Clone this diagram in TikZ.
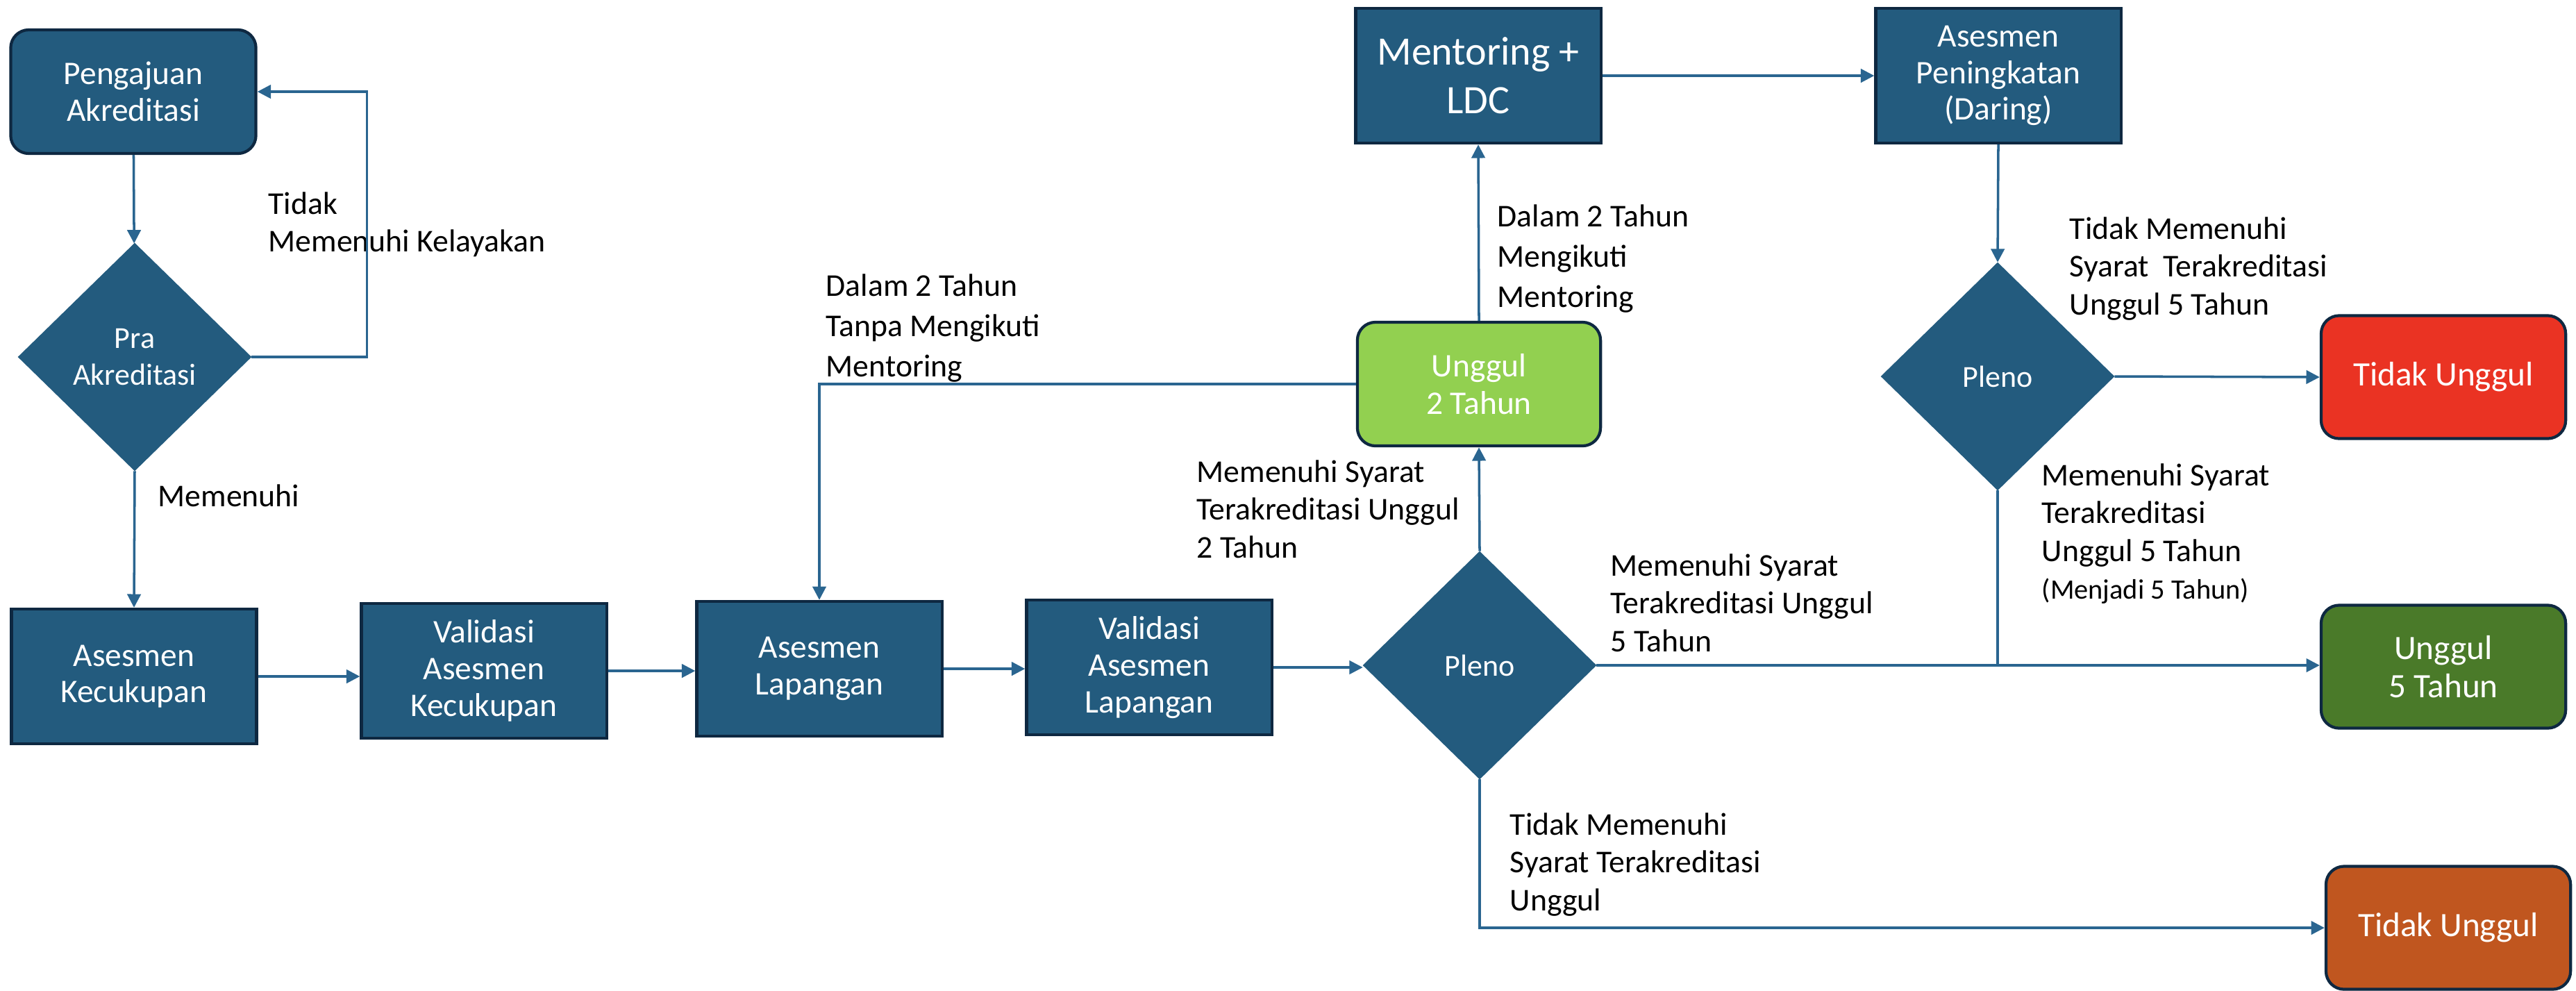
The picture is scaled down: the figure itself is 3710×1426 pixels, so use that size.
\documentclass[tikz,border=0pt]{standalone}
\usepackage{fontspec}
\setmainfont{Carlito}
\usetikzlibrary{shapes.geometric,arrows.meta}
\definecolor{boxblue}{HTML}{235B7E}
\definecolor{boxedge}{HTML}{0E2841}
\definecolor{linkblue}{HTML}{2A6590}
\definecolor{hijaumuda}{HTML}{92D050}
\definecolor{hijautua}{HTML}{4A7A29}
\definecolor{merah}{HTML}{EA3323}
\definecolor{coklat}{HTML}{C0561F}

\begin{document}
\begin{tikzpicture}[x=0.01cm,y=-0.01cm,>={Triangle[length=5.5pt,width=5.5pt]}]
  \tikzstyle{box}=[rectangle,draw=boxedge,line width=1.2pt,fill=boxblue,text=white,align=center,
    minimum width=3.53cm,minimum height=1.94cm,inner sep=0pt,font=\fontsize{13.5}{15}\selectfont]
  \tikzstyle{hasil}=[box,rounded corners=0.26cm,minimum width=3.52cm,minimum height=1.77cm,
    font=\fontsize{14}{15.5}\selectfont]
  \tikzstyle{cek}=[diamond,draw=boxblue,fill=boxblue,text=white,align=center,
    minimum width=3.35cm,minimum height=3.27cm,inner sep=0pt,font=\fontsize{12.5}{15}\selectfont]
  \tikzstyle{ket}=[anchor=north west,align=left,inner sep=0pt,font=\fontsize{13}{15.5}\selectfont]
  \tikzstyle{ketlebar}=[ket,font=\fontsize{13}{16.5}\selectfont]
  \tikzstyle{alur}=[->,draw=linkblue,line width=1pt]
  \useasboundingbox (0,0) rectangle (3710,1426);

  \node[box,rounded corners=0.26cm,minimum height=1.78cm] (pengajuan) at (192,132) {Pengajuan\\Akreditasi};
  \node[cek] (pra) at (194,514) {Pra\\Akreditasi};
  \node[box] (kecukupan) at (193,974) {Asesmen\\Kecukupan};
  \node[box] (valkecukupan) at (697,966) {Validasi\\Asesmen\\Kecukupan};
  \node[box] (lapangan) at (1180,963) {Asesmen\\Lapangan};
  \node[box] (vallapangan) at (1655,961) {Validasi\\Asesmen\\Lapangan};
  \node[cek] (plenoa) at (2131,958) {Pleno};
  \node[hasil,fill=hijaumuda,minimum width=3.5cm,minimum height=1.78cm,
    font=\fontsize{13.5}{15.5}\selectfont] (unggulb) at (2130,553) {Unggul\\2 Tahun};
  \node[box,font=\fontsize{16.5}{20}\selectfont] (mentoring) at (2129,109) {Mentoring +\\LDC};
  \node[box] (peningkatan) at (2878,109) {Asesmen\\Peningkatan\\(Daring)};
  \node[cek] (plenob) at (2877,542) {Pleno};
  \node[hasil,fill=merah] (tidakmerah) at (3519,543) {Tidak Unggul};
  \node[hasil,fill=hijautua] (unggule) at (3519,960) {Unggul\\5 Tahun};
  \node[hasil,fill=coklat] (tidakcoklat) at (3526,1336) {Tidak Unggul};

  \node[ket] (ketlayak) at (386,276) {Tidak\\Memenuhi Kelayakan};
  \node[ket] (ketpenuh) at (227,697) {Memenuhi};
  \node[ketlebar] (kettanpa) at (1189,394) {Dalam 2 Tahun\\Tanpa Mengikuti\\Mentoring};
  \node[ketlebar] (ketikut) at (2156,294) {Dalam 2 Tahun\\Mengikuti\\Mentoring};
  \node[ket] (ketdua) at (1723,662) {Memenuhi Syarat\\Terakreditasi Unggul\\2 Tahun};
  \node[ket] (ketlima) at (2319,797) {Memenuhi Syarat\\Terakreditasi Unggul\\5 Tahun};
  \node[ket] (kettidak) at (2174,1170) {Tidak Memenuhi\\Syarat Terakreditasi\\Unggul};
  \node[ket] (kettidaklima) at (2980,312) {Tidak Memenuhi\\Syarat\ \ Terakreditasi\\Unggul 5 Tahun};
  \node[ket] (ketmenjadi) at (2940,667) {Memenuhi Syarat\\Terakreditasi\\Unggul 5 Tahun\\
    {\fontsize{11.5}{13}\selectfont (Menjadi 5 Tahun)}};

  \draw[alur] (pengajuan) -- (pra);
  \draw[alur] (pra.east) -- ++(166,0) |- (pengajuan.east);
  \draw[alur] (pra.south) -- (kecukupan.north);
  \draw[alur] (kecukupan.east) -- (kecukupan.east -| valkecukupan.west);
  \draw[alur] (valkecukupan.east) -- (valkecukupan.east -| lapangan.west);
  \draw[alur] (lapangan.east) -- (lapangan.east -| vallapangan.west);
  \draw[alur] (vallapangan.east) -- (vallapangan.east -| plenoa.west);
  \draw[alur] (plenoa.north) -- (unggulb.south);
  \draw[alur] (unggulb.north) -- (mentoring.south);
  \draw[alur] (unggulb.west) -| (lapangan.north);
  \draw[alur] (mentoring.east) -- (peningkatan.west);
  \draw[alur] (peningkatan.south) -- (plenob.north);
  \draw[alur] (plenob.east) -- (tidakmerah.west);
  \draw[alur] (plenoa.east) -- (plenoa.east -| unggule.west);
  \draw[alur,-] (plenob.south) -- (plenob.south |- plenoa.east);
  \draw[alur] (plenoa.south) |- (tidakcoklat.west);
\end{tikzpicture}
\end{document}
